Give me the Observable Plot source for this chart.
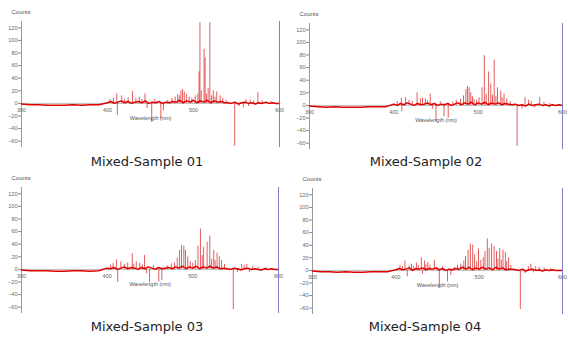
<!DOCTYPE html>
<html>
<head>
<meta charset="utf-8">
<script src="https://cdn.jsdelivr.net/npm/d3@7"></script>
<script src="https://cdn.jsdelivr.net/npm/@observablehq/plot@0.6"></script>
<style>
  body { margin: 0; background: #fff; }
  #wrap { position: relative; width: 568px; height: 338px; overflow: hidden; background: #fff; }
  .panel { position: absolute; height: 150px; }
  .panel svg { max-width: none !important; }
  .cap { position: absolute; width: 200px; text-align: center; font-family: "DejaVu Sans", sans-serif; font-size: 13px; line-height: 16px; color: #222; }
</style>
</head>
<body>
<div id="wrap"></div>
<script>
// ---- data ----
const captions = ["Mixed-Sample 01", "Mixed-Sample 02", "Mixed-Sample 03", "Mixed-Sample 04"];
const xTicks = [300, 400, 500, 600];
const yTicks = [-60, -40, -20, 0, 20, 40, 60, 80, 100, 120];

const baseWl = [300,310,320,330,340,350,360,370,380,390,
  400,404,408,412,416,420,424,428,432,436,440,444,448,452,456,460,464,468,472,476,
  480,484,488,492,496,500,504,508,512,516,520,524,528,532,536,
  540,544,548,552,556,560,564,568,572,576,580,584,588,592,596,600];

const base01 = [-1,-2,-2,-3,-3,-3,-2,-3,-2,-2,
  1,3,0,2,4,1,3,0,2,3,1,4,0,2,1,3,0,2,1,3,
  2,5,1,4,2,5,1,4,2,5,1,4,2,3,1,
  1,0,2,-1,1,2,0,1,-1,1,0,2,0,1,0,0];
const base02 = [-1,-2,-3,-2,-3,-3,-3,-2,-2,-2,
  2,0,3,1,4,2,0,3,1,2,4,1,3,0,2,1,3,0,2,4,
  1,4,2,5,1,4,2,5,1,4,2,4,1,3,2,
  1,2,0,1,-1,2,0,1,2,0,1,-1,1,0,1,0];
const base03 = [-1,-2,-2,-2,-3,-3,-2,-2,-3,-2,
  2,1,3,0,2,4,1,3,2,0,3,1,4,2,0,3,1,2,3,1,
  4,2,5,1,4,2,5,1,4,2,5,2,4,1,2,
  1,0,2,1,-1,1,2,0,1,0,-1,1,0,1,0,0];
const base04 = [-1,-2,-2,-3,-2,-3,-3,-2,-2,-2,
  1,3,1,2,4,0,3,2,4,1,3,2,4,1,3,0,2,1,3,2,
  5,2,5,1,4,2,5,2,4,1,5,2,4,1,2,
  2,1,0,2,-1,1,2,0,1,-1,1,0,1,0,0,0];

const wl01 = [403,407,410.8,411.5,416.5,420,424,429,433,437,440,443.6,446,451.4,455,462,465,470,475,478.6,481.6,483.5,485.4,487.3,489.3,492,495,498,502,505,506.5,507.5,509,512.3,513.5,515,517,519,521,523,525,527,531,534,538,547.9,553,558,561,564,566,570,574.9,580,590];
const ct01 = [6,8,15,-19,12,7,9,19,8,10,6,15,-8,-30,6,-25,-12,5,8,10,14,12,20,22,18,14,10,8,12,15,50,128,20,86,72,15,24,128,12,20,10,18,12,8,5,-68,-5,-7,6,-5,5,4,17,4,3];

const wl02 = [404,408.9,409.5,413.9,418,422,427.6,431.5,434,437.4,440,443.2,446,450,455,459.5,464.5,470,474,479,482.6,485.4,487.3,489.3,491.2,493.2,495,498,501,504.6,507.3,509.5,512.4,515,517,519,521,522.9,526.8,528.5,530.7,534,538,546.2,552,555.5,559.8,563,567,573,578,585];
const ct02 = [6,11,-10,12,8,6,20,10,12,10,7,18,-6,-26,6,-18,-20,5,8,10,15,25,30,28,20,14,10,8,12,28,79,18,53,34,16,72,14,28,23,12,18,10,6,-65,-6,12,8,6,-4,13,5,3];

const wl03 = [404,407,410.8,412.3,416,420,424,429.3,431,434,438,441,443.6,446,449.5,454,460.3,463.8,470,475,478.6,481.8,484.5,486.8,489.5,491.4,494.1,497,500,503,506,508.9,511,512.6,516.7,519.8,522,524.4,526,528.3,531,533.5,537,547.2,552,557,560,563,566,570,576,585];
const ct03 = [7,9,15,-21,12,8,10,25,8,12,10,7,22,-7,-21,6,-20,-18,6,9,10,18,30,38,37,30,20,12,10,14,37,64,22,35,43,53,16,30,14,26,20,14,8,-64,-5,8,6,8,-5,5,4,3];

const wl04 = [405,408,410.9,413.7,416,418.8,421,424.7,427,430.6,432,434.5,436,438.4,441,446.3,449,452.2,456,462,466,470,474,478,481.6,483.6,486.7,489.4,492.2,494.5,497,499.2,502,505,507,509.8,512,514.9,518,520.8,522.5,524.7,526.5,528.6,531.4,533,535.3,538,549.4,555,559,562,565,567.8,572,578,586];
const ct04 = [8,6,15,-10,7,10,6,12,8,20,-6,15,9,12,8,16,5,-27,6,-18,-8,5,8,10,15,22,32,42,40,25,14,34,16,20,30,50,35,42,38,30,18,35,16,32,28,14,20,8,-62,-5,6,10,-4,6,5,4,3];

const panels = [
  {wl: wl01, ct: ct01, base: base01, left: 0,   top: 0,   w: 284, capLeft: 47,  capTop: 154},
  {wl: wl02, ct: ct02, base: base02, left: 288, top: 2,   w: 279, capLeft: 326, capTop: 154},
  {wl: wl03, ct: ct03, base: base03, left: 0,   top: 166, w: 283, capLeft: 47,  capTop: 319},
  {wl: wl04, ct: ct04, base: base04, left: 291, top: 167, w: 276, capLeft: 325, capTop: 319}
];

const xDomain = [300, 600];
const yDomain = [-70, 130];
const wrap = document.getElementById("wrap");

panels.forEach((p, i) => {
  const spikes = p.wl.map((w, j) => ({w, c: p.ct[j]}));
  const baseline = baseWl.map((w, j) => ({w, c: p.base[j]}));
  const chart = Plot.plot({
    width: p.w, height: 150,
    marginLeft: 21, marginRight: 5, marginTop: 21, marginBottom: 3,
    x: {domain: xDomain, axis: null},
    y: {domain: yDomain},
    style: {background: "transparent", overflow: "visible", fontFamily: "Liberation Sans, Arial, sans-serif"},
    marks: [
      Plot.axisY({ticks: yTicks, tickSize: 3, tickPadding: 1, fontSize: 5.5, label: null, stroke: "#888", color: "#666"}),
      Plot.ruleX([xDomain[0]], {y1: () => yDomain[0], y2: () => yDomain[1], stroke: "#999", strokeWidth: 1}),
      Plot.ruleY([0], {stroke: "#aaa", strokeWidth: 0.8}),
      Plot.text(xTicks, {x: d => d, y: () => 0, dy: 7, text: d => String(d), fontSize: 5.5, fill: "#666"}),
      Plot.text(["Wavelength (nm)"], {x: () => d3.mean(xDomain), y: () => 0, dy: 15, text: d => d, fontSize: 5.5, fill: "#555"}),
      Plot.text(["Counts"], {frameAnchor: "top-left", dx: -10, dy: -12, text: d => d, fontSize: 6, fill: "#555"}),
      Plot.ruleX(spikes, {x: "w", y1: () => 0, y2: "c", stroke: "#d81818", strokeWidth: 1, strokeOpacity: 0.7}),
      Plot.line(baseline, {x: "w", y: "c", stroke: "#e00000", strokeWidth: 1.5}),
      Plot.ruleX([xDomain[1]], {y1: () => yDomain[0], y2: () => yDomain[1], stroke: "rgb(125,125,205)", strokeOpacity: 1, strokeWidth: 1})
    ]
  });
  const div = document.createElement("div");
  div.className = "panel";
  div.style.left = p.left + "px";
  div.style.top = p.top + "px";
  div.style.width = p.w + "px";
  div.appendChild(chart);
  wrap.appendChild(div);
  const cap = document.createElement("div");
  cap.className = "cap";
  cap.style.left = p.capLeft + "px";
  cap.style.top = p.capTop + "px";
  cap.textContent = captions[i];
  wrap.appendChild(cap);
});
</script>
</body>
</html>
